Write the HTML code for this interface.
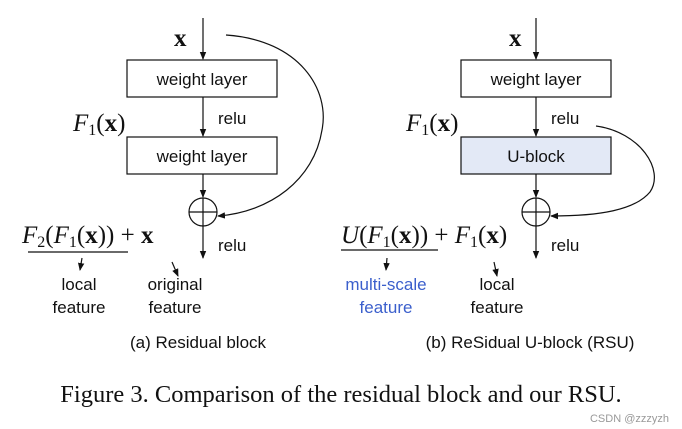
<!DOCTYPE html>
<html><head><meta charset="utf-8"><style>
html,body{margin:0;padding:0;background:#fff;}
svg{display:block;}
.s{font-family:"Liberation Sans",sans-serif;font-size:17px;fill:#111;}
.m{font-family:"Liberation Serif",serif;font-size:25px;fill:#111;}
</style></head><body>
<svg width="682" height="429" viewBox="0 0 682 429" xmlns="http://www.w3.org/2000/svg">
<defs><marker id="a" markerWidth="8" markerHeight="8" refX="7" refY="4" orient="auto" markerUnits="userSpaceOnUse"><path d="M0,0.8 L8,4 L0,7.2 Z" fill="#111"/></marker></defs>
<g stroke="#111" stroke-width="1.2" fill="none">
<line x1="203" y1="18" x2="203" y2="59" marker-end="url(#a)"/>
<rect x="127" y="60" width="150" height="37" fill="#fff"/>
<line x1="203" y1="97" x2="203" y2="136" marker-end="url(#a)"/>
<rect x="127" y="137" width="150" height="37" fill="#fff"/>
<line x1="203" y1="174" x2="203" y2="197" marker-end="url(#a)"/>
<circle cx="203" cy="212" r="14"/>
<line x1="189" y1="212" x2="217" y2="212"/><line x1="203" y1="198" x2="203" y2="226"/>
<line x1="203" y1="226" x2="203" y2="258" marker-end="url(#a)"/>
<path d="M226,35 C300,40 330,90 322,130 C314,180 270,212 218,216" marker-end="url(#a)"/>
<line x1="28" y1="252" x2="128" y2="252"/>
<line x1="82" y1="258" x2="80" y2="270" marker-end="url(#a)"/>
<line x1="172" y1="262" x2="178" y2="276" marker-end="url(#a)"/>
<line x1="536" y1="18" x2="536" y2="59" marker-end="url(#a)"/>
<rect x="461" y="60" width="150" height="37" fill="#fff"/>
<line x1="536" y1="97" x2="536" y2="136" marker-end="url(#a)"/>
<rect x="461" y="137" width="150" height="37" fill="#e3e9f6"/>
<line x1="536" y1="174" x2="536" y2="197" marker-end="url(#a)"/>
<circle cx="536" cy="212" r="14"/>
<line x1="522" y1="212" x2="550" y2="212"/><line x1="536" y1="198" x2="536" y2="226"/>
<line x1="536" y1="226" x2="536" y2="258" marker-end="url(#a)"/>
<path d="M596,126 C640,132 665,170 650,192 C635,210 600,216 551,216" marker-end="url(#a)"/>
<line x1="341" y1="250" x2="438" y2="250"/>
<line x1="387" y1="258" x2="386" y2="270" marker-end="url(#a)"/>
<line x1="494" y1="262" x2="497" y2="276" marker-end="url(#a)"/>
</g>
<g class="s">
<text x="202" y="85" text-anchor="middle">weight layer</text>
<text x="202" y="162" text-anchor="middle">weight layer</text>
<text x="218" y="124">relu</text>
<text x="218" y="251">relu</text>
<text x="79" y="290" text-anchor="middle">local</text>
<text x="79" y="313" text-anchor="middle">feature</text>
<text x="175" y="290" text-anchor="middle">original</text>
<text x="175" y="313" text-anchor="middle">feature</text>
<text x="198" y="348" text-anchor="middle">(a) Residual block</text>
<text x="536" y="85" text-anchor="middle">weight layer</text>
<text x="536" y="162" text-anchor="middle">U-block</text>
<text x="551" y="124">relu</text>
<text x="551" y="251">relu</text>
<text x="386" y="290" text-anchor="middle" fill="#3b5fcc">multi-scale</text>
<text x="386" y="313" text-anchor="middle" fill="#3b5fcc">feature</text>
<text x="497" y="290" text-anchor="middle">local</text>
<text x="497" y="313" text-anchor="middle">feature</text>
<text x="530" y="348" text-anchor="middle">(b) ReSidual U-block (RSU)</text>
</g>
<g class="m">
<text x="174" y="46" font-weight="bold">x</text>
<text x="73" y="131"><tspan font-style="italic">F</tspan><tspan font-size="16" dy="4">1</tspan><tspan dy="-4">(</tspan><tspan font-weight="bold">x</tspan>)</text>
<text x="22" y="243"><tspan font-style="italic">F</tspan><tspan font-size="16" dy="4">2</tspan><tspan dy="-4">(</tspan><tspan font-style="italic">F</tspan><tspan font-size="16" dy="4">1</tspan><tspan dy="-4">(</tspan><tspan font-weight="bold">x</tspan>)) + <tspan font-weight="bold">x</tspan></text>
<text x="509" y="46" font-weight="bold">x</text>
<text x="406" y="131"><tspan font-style="italic">F</tspan><tspan font-size="16" dy="4">1</tspan><tspan dy="-4">(</tspan><tspan font-weight="bold">x</tspan>)</text>
<text x="341" y="243"><tspan font-style="italic">U</tspan>(<tspan font-style="italic">F</tspan><tspan font-size="16" dy="4">1</tspan><tspan dy="-4">(</tspan><tspan font-weight="bold">x</tspan>)) + <tspan font-style="italic">F</tspan><tspan font-size="16" dy="4">1</tspan><tspan dy="-4">(</tspan><tspan font-weight="bold">x</tspan>)</text>
<text x="341" y="402" text-anchor="middle" font-size="24.5">Figure 3. Comparison of the residual block and our RSU.</text>
</g>
<text x="669" y="422" text-anchor="end" font-family="Liberation Sans,sans-serif" font-size="11" fill="#999">CSDN @zzzyzh</text>
</svg>
</body></html>
